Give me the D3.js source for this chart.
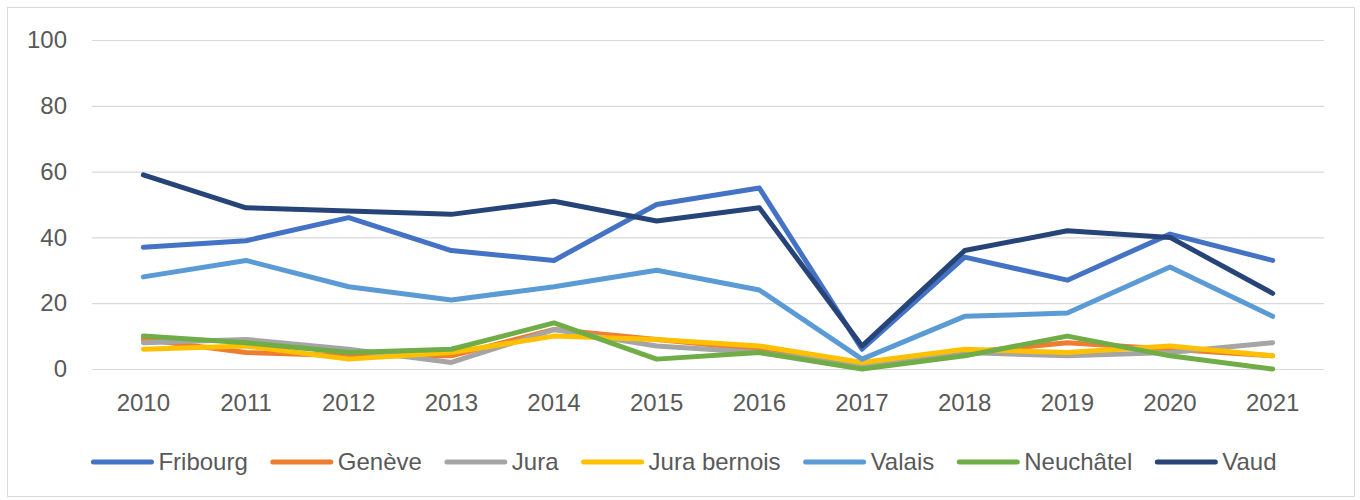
<!DOCTYPE html>
<html>
<head>
<meta charset="utf-8">
<script src="https://cdn.jsdelivr.net/npm/d3@7"></script>
<style>
  html, body { margin: 0; padding: 0; background: #fff; }
  svg { display: block; }
  text { font-family: "Liberation Sans", Arial, sans-serif; fill: #595959; }
</style>
</head>
<body>
<svg id="chart" width="1360" height="500"></svg>
<script>
const years = ["2010","2011","2012","2013","2014","2015","2016","2017","2018","2019","2020","2021"];
const yTicks = [0, 20, 40, 60, 80, 100];

const seriesNames = ["Fribourg", "Genève", "Jura", "Jura bernois", "Valais", "Neuchâtel", "Vaud"];
const fribourg    = [37, 39, 46, 36, 33, 50, 55, 6, 34, 27, 41, 33];
const geneve      = [9, 5, 4, 4, 12, 9, 6, 1, 5, 8, 6, 4];
const jura        = [8, 9, 6, 2, 12, 7, 5, 1, 5, 4, 5, 8];
const juraBernois = [6, 7, 3, 5, 10, 9, 7, 2, 6, 5, 7, 4];
const valais      = [28, 33, 25, 21, 25, 30, 24, 3, 16, 17, 31, 16];
const neuchatel   = [10, 8, 5, 6, 14, 3, 5, 0, 4, 10, 4, 0];
const vaud        = [59, 49, 48, 47, 51, 45, 49, 7, 36, 42, 40, 23];
const seriesColors = ["#4472C4", "#ED7D31", "#A5A5A5", "#FFC000", "#5B9BD5", "#70AD47", "#264478"];

const seriesValues = [fribourg, geneve, jura, juraBernois, valais, neuchatel, vaud];
const series = seriesNames.map((name, i) => ({ name, color: seriesColors[i], values: seriesValues[i] }));

const FONT = 24;
const svg = d3.select("#chart");

// chart border
svg.append("rect")
  .attr("x", 7.5).attr("y", 7.5).attr("width", 1347).attr("height", 489)
  .attr("fill", "#fff").attr("stroke", "#d9d9d9").attr("stroke-width", 1);

const plot = { left: 92, right: 1324, top: 40, bottom: 369 };

const x = d3.scaleBand().domain(years).range([plot.left, plot.right]).paddingInner(0).paddingOuter(0);
const xc = d => x(d) + x.bandwidth() / 2;
const y = d3.scaleLinear().domain([0, 100]).range([plot.bottom, plot.top]);

// gridlines + y labels
const yAxis = d3.axisLeft(y).tickValues(yTicks).tickSize(-(plot.right - plot.left)).tickPadding(25);
const gy = svg.append("g").attr("transform", `translate(${plot.left},0)`).call(yAxis);
gy.select(".domain").remove();
gy.selectAll(".tick line").attr("stroke", "#d9d9d9").attr("stroke-width", 1.2);
gy.selectAll(".tick text")
  .attr("font-size", FONT).attr("fill", "#595959")
  .style("font-family", '"Liberation Sans", Arial, sans-serif');

// x labels
const xAxis = d3.axisBottom(x).tickSize(0).tickPadding(25);
const gx = svg.append("g").attr("transform", `translate(0,${plot.bottom})`).call(xAxis);
gx.select(".domain").remove();
gx.selectAll(".tick text")
  .attr("font-size", FONT).attr("fill", "#595959")
  .style("font-family", '"Liberation Sans", Arial, sans-serif');

// lines
const line = d3.line().x((d, i) => xc(years[i])).y(d => y(d));
svg.append("g").selectAll("path")
  .data(series)
  .join("path")
  .attr("d", d => line(d.values))
  .attr("fill", "none")
  .attr("stroke", d => d.color)
  .attr("stroke-width", 5)
  .attr("stroke-linejoin", "round")
  .attr("stroke-linecap", "round");

// legend
const legendY = 462;
const lineLen = 62, lineGap = 5, itemGap = 23;
const lg = svg.append("g");
const items = lg.selectAll("g").data(series).join("g");
items.append("line")
  .attr("x1", 2).attr("x2", lineLen - 2).attr("y1", 0).attr("y2", 0)
  .attr("stroke", d => d.color).attr("stroke-width", 5).attr("stroke-linecap", "round");
items.append("text")
  .attr("x", lineLen + lineGap).attr("y", 0).attr("dy", "0.35em")
  .attr("font-size", FONT).text(d => d.name);
const widths = [];
items.each(function () {
  const w = lineLen + lineGap + d3.select(this).select("text").node().getComputedTextLength();
  widths.push(w);
});
const total = d3.sum(widths) + itemGap * (widths.length - 1);
let start = 684 - total / 2;
items.attr("transform", (d, i) => {
  const t = `translate(${start},${legendY})`;
  start += widths[i] + itemGap;
  return t;
});
</script>
</body>
</html>
